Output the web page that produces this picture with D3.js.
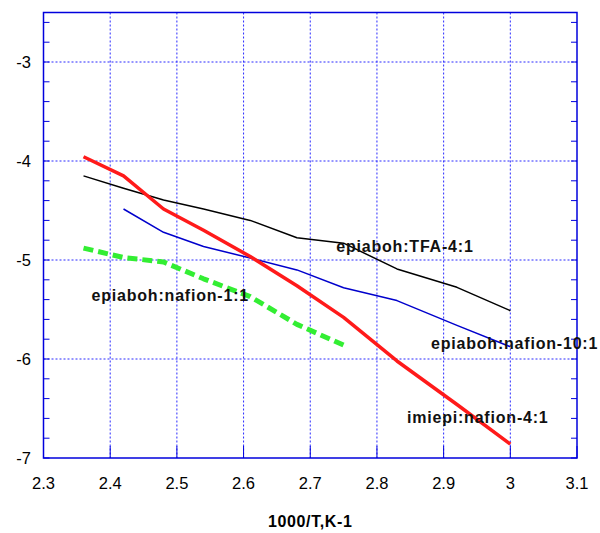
<!DOCTYPE html>
<html><head><meta charset="utf-8">
<script src="https://cdn.jsdelivr.net/npm/d3@7"></script>
<style>body{margin:0;background:#fff}</style>
</head><body>
<svg id="chart" width="600" height="533"></svg>
<script>
const xValues = [2.36, 2.42, 2.48, 2.54, 2.61, 2.68, 2.75, 2.83, 2.92, 3.0];
const seriesNames = ["epiaboh:TFA-4:1", "epiaboh:nafion-10:1", "imiepi:nafion-4:1", "epiaboh:nafion-1:1"];
const tfa41 = [-4.15, -4.276, -4.394, -4.485, -4.60, -4.775, -4.83, -5.09, -5.276, -5.512];
const nafion101 = [null, -4.485, -4.72, -4.864, -4.98, -5.10, -5.28, -5.41, -5.66, -5.876];
const imiepi41 = [-3.957, -4.15, -4.485, -4.70, -4.965, -5.26, -5.58, -6.02, -6.46, -6.86];
const nafion11 = [-4.88, -4.975, -5.02, -5.19, -5.37, -5.65, -5.86, null, null, null];
const xTicks = [2.3, 2.4, 2.5, 2.6, 2.7, 2.8, 2.9, 3.0, 3.1];
const yTicks = [-7, -6, -5, -4, -3];
const xTitle = "1000/T,K-1";
// label anchor points in data coordinates
const labelX = [2.739, 2.881, 2.845, 2.372];
const labelY = [-4.92, -5.899, -6.649, -5.411];

const svg = d3.select("#chart");
const m = {l: 43.5, r: 23, t: 12.5, b: 75};
const W = 600, H = 533;
const x = d3.scaleLinear().domain([2.3, 3.1]).range([m.l, W - m.r]);
const y = d3.scaleLinear().domain([-7, -2.5]).range([H - m.b, m.t]);
const frameColor = "#0000dd";
const font = "'Liberation Sans', Arial, sans-serif";

// grid
const grid = svg.append("g");
grid.selectAll(".vg").data(xTicks.slice(1, -1)).join("line")
  .attr("x1", d => x(d)).attr("x2", d => x(d))
  .attr("y1", y.range()[1]).attr("y2", y.range()[0])
  .attr("stroke", "#2a2aff").attr("stroke-width", 1).attr("stroke-dasharray", "2,2");
grid.selectAll(".hg").data(yTicks.slice(1)).join("line")
  .attr("y1", d => y(d)).attr("y2", d => y(d))
  .attr("x1", x.range()[0]).attr("x2", x.range()[1])
  .attr("stroke", "#2a2aff").attr("stroke-width", 1).attr("stroke-dasharray", "2,2");

// minor ticks y (left & right, inward)
const minor = d3.range(-7, -2.5, 0.2).map(v => +v.toFixed(1));
const ax = svg.append("g");
ax.selectAll(".ml").data(minor).join("line")
  .attr("x1", x.range()[0]).attr("x2", x.range()[0] + 6)
  .attr("y1", d => y(d)).attr("y2", d => y(d))
  .attr("stroke", frameColor).attr("stroke-width", 1);
ax.selectAll(".mr").data(minor).join("line")
  .attr("x1", x.range()[1]).attr("x2", x.range()[1] - 6)
  .attr("y1", d => y(d)).attr("y2", d => y(d))
  .attr("stroke", frameColor).attr("stroke-width", 1);
// x ticks (bottom, inward)
ax.selectAll(".xt").data(xTicks).join("line")
  .attr("x1", d => x(d)).attr("x2", d => x(d))
  .attr("y1", y.range()[0]).attr("y2", y.range()[0] - 12)
  .attr("stroke", frameColor).attr("stroke-width", 1);

// frame
svg.append("rect")
  .attr("x", x.range()[0]).attr("y", y.range()[1])
  .attr("width", x.range()[1] - x.range()[0]).attr("height", y.range()[0] - y.range()[1])
  .attr("fill", "none").attr("stroke", frameColor).attr("stroke-width", 1.5);

// tick labels
svg.append("g").selectAll("text").data(xTicks).join("text")
  .attr("x", d => x(d)).attr("y", y.range()[0] + 31)
  .attr("text-anchor", "middle").attr("font-family", font).attr("font-size", 16.5)
  .text(d => String(+d.toFixed(1)));
svg.append("g").selectAll("text").data(yTicks).join("text")
  .attr("x", 31).attr("y", d => y(d) + 6)
  .attr("text-anchor", "end").attr("font-family", font).attr("font-size", 16.5)
  .text(d => String(d));
svg.append("text").attr("x", (x.range()[0] + x.range()[1]) / 2).attr("y", 527)
  .attr("text-anchor", "middle").attr("font-family", font).attr("font-size", 16)
  .attr("letter-spacing", 0.6)
  .attr("font-weight", "bold").text(xTitle);

// lines
const series = [
  {vals: tfa41, color: "#000000", w: 1.5, dash: null},
  {vals: nafion101, color: "#0000cc", w: 1.5, dash: null},
  {vals: imiepi41, color: "#ff1a1a", w: 3.5, dash: null},
  {vals: nafion11, color: "#33ee33", w: 5, dash: "10,5"}
];
const line = d3.line().defined(d => d[1] !== null).x(d => x(d[0])).y(d => y(d[1]));
series.forEach(s => {
  svg.append("path").datum(xValues.map((v, i) => [v, s.vals[i]]))
    .attr("d", line).attr("fill", "none").attr("stroke", s.color)
    .attr("stroke-width", s.w).attr("stroke-linejoin", "round")
    .attr("stroke-dasharray", s.dash);
});

// labels
svg.append("g").selectAll("text").data(seriesNames).join("text")
  .attr("x", (d, i) => x(labelX[i])).attr("y", (d, i) => y(labelY[i]))
  .attr("font-family", font).attr("font-size", 16).attr("font-weight", "bold")
  .attr("letter-spacing", 0.8)
  .attr("fill", "#111").text(d => d);
</script>
</body></html>
